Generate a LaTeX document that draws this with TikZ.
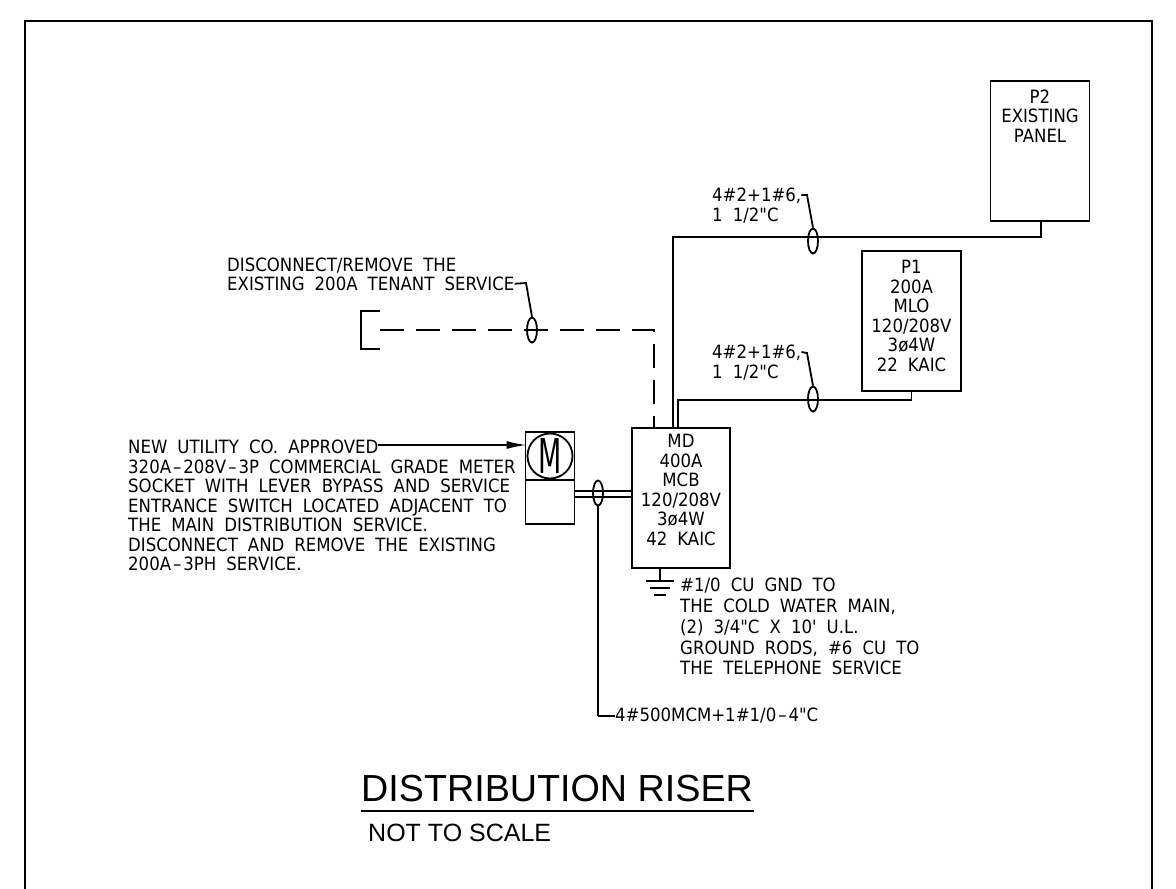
\documentclass[tikz,border=0pt]{standalone}
\usepackage{fontspec}
\setmainfont{Liberation Sans}
\newfontfamily\cadface[FakeStretch=0.905]{DejaVu Sans}
\usetikzlibrary{shapes.geometric, arrows.meta, calc}
\newcommand{\cadfont}{\cadface\fontsize{18.3}{19.5}\selectfont\spaceskip=0.55em\relax}
\newcommand{\caddash}{\kern2pt–\kern2pt}
\tikzstyle{wire} = [line width=1.8pt]
\begin{document}
\begin{tikzpicture}[
		x=1pt, y=-1pt,
		panel/.style={
			draw=black,
			line width=1.8pt,
			rectangle,
			inner sep=0pt,
			align=center,
			font=\cadfont},
		oval/.style={
			draw=black,
			line width=1.8pt,
			ellipse,
			inner sep=0pt,
			minimum width=10pt,
			minimum height=25pt},
		note/.style={
			inner sep=0pt,
			anchor=north west,
			align=left,
			font=\cadfont}]
		\useasboundingbox (0,0) rectangle (1176,889);
		\draw [wire] (25,889) -- (25,21) -- (1152,21) -- (1152,889);

		\node (ptwo) [panel, minimum width=99pt, minimum height=140pt] at (1040,151) {P2\\EXISTING\\PANEL\\[51pt]\mbox{}};
		\node (pone) [panel, minimum width=99pt, minimum height=140pt] at (911.5,321) {P1\\200A\\MLO\\120/208V\\3ø4W\\22 KAIC\\[-9pt]\mbox{}};
		\node (md) [panel, minimum width=98pt, minimum height=140pt] at (681,498) {MD\\400A\\MCB\\120/208V\\3ø4W\\42 KAIC\\[-3.5pt]\mbox{}};
		\node (meter) [panel, minimum width=49pt, minimum height=48pt] at (550,456) {};
		\node (socket) [panel, minimum width=49pt, minimum height=44pt] at (550,502) {};
		\node (dial) [panel, circle, minimum size=45pt] at (meter.center) {\scalebox{0.62}[1]{\fontsize{48}{48}\selectfont M}};

		\node (ovalptwo) [oval] at (813,241) {};
		\node (ovalpone) [oval] at (813,399) {};
		\node (ovalold) [oval] at (532,330) {};
		\node (ovalfeed) [oval] at (598,493) {};

		\coordinate (tapptwo) at (813,237);
		\coordinate (tappone) at (813,400);
		\coordinate (bracket) at (380,330);
		\coordinate (elbow) at (654,330);
		\coordinate (service) at (598,716);
		\coordinate (ground) at (660,581);
		\coordinate (pointer) at (378,445);

		\draw [wire] ([xshift=1pt]ptwo.south) |- (tapptwo) -| ([xshift=-8pt]md.north);
		\draw [wire] (pone.south) |- (tappone) -| ([xshift=-3pt]md.north);
		\draw [wire, dash pattern=on 24pt off 12pt] (bracket) -- (elbow) -- ([xshift=-27pt]md.north);
		\draw [wire] (380,311) -- (361,311) -- (361,349) -- (380,349);

		\draw [wire] ([yshift=11pt]socket.east) -- ([yshift=11pt]socket.east -| md.west);
		\draw [wire] ([yshift=5pt]socket.east) -- ([yshift=5pt]socket.east -| md.west);
		\draw [wire] (ovalfeed.south) -- (service);

		\draw [wire] ([xshift=-21pt]md.south) -- (ground);
		\draw [wire] ($(ground)+(-14,0)$) -- ($(ground)+(14,0)$);
		\draw [wire] ($(ground)+(-10,7)$) -- ($(ground)+(10,7)$);
		\draw [wire] ($(ground)+(-6,14)$) -- ($(ground)+(6,14)$);

		\node (notetop) [note] at (712,188) {4\#2+1\#6,\\1 1/2"C};
		\node (notemid) [note] at (712,345) {4\#2+1\#6,\\1 1/2"C};
		\node (noteold) [note] at (227,258) {DISCONNECT/REMOVE THE\\[-1pt]EXISTING 200A TENANT SERVICE};
		\node (notemeter) [note] at (128,440) {NEW UTILITY CO. APPROVED\\320A\caddash 208V\caddash 3P COMMERCIAL GRADE METER\\SOCKET WITH LEVER BYPASS AND SERVICE\\ENTRANCE SWITCH LOCATED ADJACENT TO\\THE MAIN DISTRIBUTION SERVICE.\\DISCONNECT AND REMOVE THE EXISTING\\200A\caddash 3PH SERVICE.};
		\node (noteground) [note] at (680,578) {\#1/0 CU GND TO\\[1.3pt]THE COLD WATER MAIN,\\[1.3pt](2) 3/4"C X 10' U.L.\\[1.3pt]GROUND RODS, \#6 CU TO\\[1.3pt]THE TELEPHONE SERVICE};
		\node (notefeed) [note, anchor=west] at (615,716) {4\#500MCM+1\#1/0\caddash 4"C};

		\draw [wire] ([yshift=-7pt]notetop.north east) -- (807,195) -- (ovalptwo.north);
		\draw [wire] ([yshift=-7pt]notemid.north east) -- (807,353) -- (ovalpone.north);
		\draw [wire] ([yshift=7pt]noteold.south east) -- (526,283) -- (ovalold.north);
		\draw [wire] (service) -- (notefeed.west);
		\draw [wire, -{Latex[length=20pt,width=8pt]}] (pointer) -- (pointer -| dial.west);

		\node (title) [inner sep=0pt, anchor=base west, font=\fontsize{37.7}{38}\selectfont] at (361,801) {DISTRIBUTION RISER};
		\node (subtitle) [inner sep=0pt, anchor=base west, font=\fontsize{25}{26}\selectfont] at (368,841) {NOT TO SCALE};
		\draw [wire] (361,811) -- (754,811);
	\end{tikzpicture}
\end{document}
